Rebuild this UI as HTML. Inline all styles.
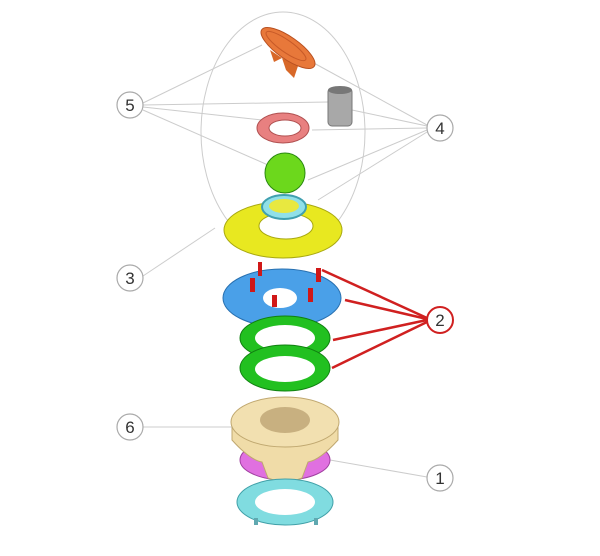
<!DOCTYPE html>
<html><head><style>body{margin:0;background:#fff}svg{display:block}text{font-family:"Liberation Sans",sans-serif}</style></head><body>
<svg width="600" height="556" viewBox="0 0 600 556">
<g stroke="#ccc" stroke-width="1" fill="none">
<ellipse cx="283" cy="132" rx="82" ry="120"/>
<line x1="143" y1="103" x2="262" y2="45"/><line x1="143" y1="105" x2="328" y2="102"/>
<line x1="143" y1="107" x2="262" y2="120"/><line x1="143" y1="110" x2="268" y2="165"/>
<line x1="427" y1="125" x2="312" y2="62"/><line x1="427" y1="126" x2="352" y2="110"/>
<line x1="427" y1="128" x2="312" y2="130"/><line x1="427" y1="130" x2="308" y2="180"/>
<line x1="427" y1="132" x2="318" y2="200"/>
<line x1="143" y1="276" x2="215" y2="228"/>
<line x1="143" y1="427" x2="232" y2="427"/>
<line x1="427" y1="477" x2="330" y2="460"/>
</g>
<g stroke="#d02020" stroke-width="2.5">
<line x1="427" y1="318" x2="322" y2="270"/><line x1="427" y1="319" x2="345" y2="300"/>
<line x1="427" y1="320" x2="333" y2="340"/><line x1="427" y1="322" x2="332" y2="368"/>
</g>
<!-- orange paddle -->
<path d="M282 58 L286 70 L294 78 L298 66Z" fill="#d86828"/>
<path d="M270 50 L274 62 L282 58Z" fill="#d86828"/>
<ellipse cx="288" cy="48" rx="32" ry="11" transform="rotate(35 288 48)" fill="#e8783a" stroke="#b85020"/>
<ellipse cx="286" cy="46" rx="24" ry="6" transform="rotate(35 286 46)" fill="none" stroke="#c85a28"/>
<!-- gray cylinder -->
<rect x="328" y="88" width="24" height="38" rx="4" fill="#a8a8a8" stroke="#777"/>
<ellipse cx="340" cy="90" rx="12" ry="4" fill="#777"/>
<!-- pink ring -->
<ellipse cx="283" cy="128" rx="26" ry="15" fill="#e88080" stroke="#b05050"/>
<ellipse cx="285" cy="128" rx="16" ry="8" fill="#fff" stroke="#b05050"/>
<!-- green ball -->
<circle cx="285" cy="173" r="20" fill="#6cd81c" stroke="#2a8a10"/>
<!-- yellow disk -->
<ellipse cx="283" cy="230" rx="59" ry="28" fill="#e8e820" stroke="#a8a810"/>
<ellipse cx="286" cy="226" rx="27" ry="13" fill="#fff" stroke="#a8a810"/>
<ellipse cx="284" cy="207" rx="22" ry="12" fill="#90e0e8" stroke="#40a0b0" stroke-width="2"/>
<ellipse cx="284" cy="206" rx="15" ry="7" fill="#e8e840"/>
<!-- blue disk -->
<ellipse cx="282" cy="298" rx="59" ry="29" fill="#4aa0e8" stroke="#2870b0"/>
<ellipse cx="280" cy="298" rx="17" ry="10" fill="#fff"/>
<g fill="#d01818"><rect x="258" y="262" width="4" height="14"/><rect x="316" y="268" width="5" height="14"/><rect x="250" y="278" width="5" height="14"/><rect x="308" y="288" width="5" height="14"/><rect x="272" y="295" width="5" height="12"/>
<rect x="307" y="337" width="4" height="10"/><rect x="257" y="368" width="4" height="10"/></g>
<!-- green rings -->
<ellipse cx="285" cy="338" rx="45" ry="22" fill="#22c020" stroke="#108010"/>
<ellipse cx="285" cy="338" rx="30" ry="13" fill="#fff"/>
<ellipse cx="285" cy="368" rx="45" ry="23" fill="#22c020" stroke="#108010"/>
<ellipse cx="285" cy="369" rx="30" ry="13" fill="#fff"/>
<!-- magenta & beige -->
<ellipse cx="285" cy="460" rx="45" ry="20" fill="#e070e0" stroke="#a040a0"/>
<path d="M232 422 L232 440 Q250 460 262 462 L268 478 Q285 485 302 478 L308 462 Q320 460 338 440 L338 422Z" fill="#f0dca8" stroke="#c0a870"/>
<ellipse cx="285" cy="422" rx="54" ry="25" fill="#f2e0b0" stroke="#c0a870"/>
<ellipse cx="285" cy="420" rx="25" ry="13" fill="#c8b080"/>
<!-- bottom cyan -->
<ellipse cx="285" cy="502" rx="48" ry="23" fill="#80dce0" stroke="#40a0a8"/>
<ellipse cx="285" cy="502" rx="30" ry="13" fill="#fff"/>
<g fill="#60a8b0"><rect x="254" y="518" width="4" height="7"/><rect x="314" y="518" width="4" height="7"/></g>
<!-- labels -->
<g fill="#fff" stroke="#aaa" stroke-width="1.2">
<circle cx="130" cy="105" r="13"/><circle cx="440" cy="128" r="13"/><circle cx="130" cy="278" r="13"/>
<circle cx="130" cy="427" r="13"/><circle cx="440" cy="478" r="13"/>
</g>
<circle cx="440" cy="320" r="13" fill="#fff" stroke="#d02020" stroke-width="2"/>
<g font-size="17" text-anchor="middle" fill="#333">
<text x="130" y="111">5</text><text x="440" y="134">4</text><text x="130" y="284">3</text>
<text x="440" y="326">2</text><text x="130" y="433">6</text><text x="440" y="484">1</text>
</g>
</svg>
</body></html>
